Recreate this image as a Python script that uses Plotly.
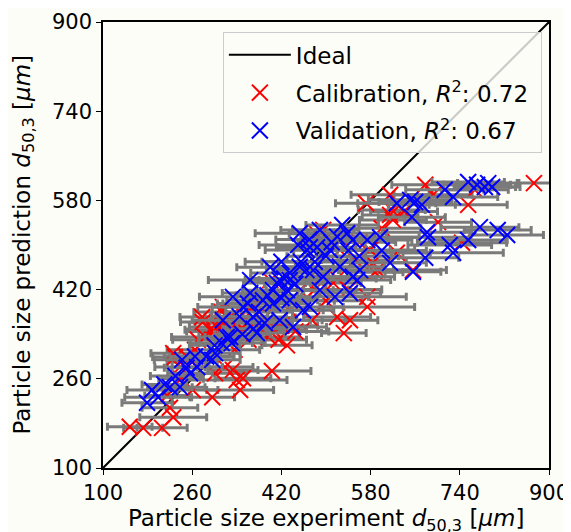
import plotly.graph_objects as go

# ---- data ----
ideal_x = [100, 900]
ideal_y = [100, 900]

cal_x = [148, 172, 206, 226, 220, 229, 238, 265, 283, 301, 296, 261, 319, 340, 346, 333,
         279, 313, 292, 340, 405, 572, 615, 618, 615, 620, 495, 579, 584, 592, 627, 656,
         513, 678, 692, 767, 755, 701, 744, 873, 588, 574, 574, 520, 543, 475, 532, 278,
         305, 328, 346, 379, 361, 397, 415, 336, 226, 364, 435, 484, 486, 315, 417, 453,
         400, 525, 552, 403, 351, 430,
         250, 270, 300, 320, 355, 375, 390, 420, 445, 460, 480, 500, 520, 540, 560, 600,
         640, 260, 240, 215]
cal_y = [174, 172, 172, 191, 208, 299, 281, 312, 335, 270, 227, 240, 281, 258, 240, 276,
         362, 380, 348, 360, 348, 575, 590, 563, 554, 545, 527, 491, 468, 455, 486, 455,
         432, 608, 590, 599, 572, 541, 504, 611, 451, 407, 389, 371, 365, 365, 342, 371,
         353, 371, 348, 353, 330, 335, 330, 312, 306, 389, 383, 520, 437, 389, 401, 419,
         437, 491, 473, 274, 261, 320,
         300, 330, 345, 360, 370, 395, 370, 355, 345, 400, 420, 400, 440, 420, 505, 530,
         560, 290, 260, 230]
cal_err = [40, 35, 45, 60, 50, 40, 45, 50, 60, 55, 40, 45, 50, 90, 60, 45,
           40, 50, 45, 55, 60, 55, 70, 60, 50, 60, 55, 80, 60, 70, 60, 60,
           50, 60, 70, 60, 70, 60, 80, 30, 50, 70, 85, 60, 50, 60, 40, 40,
           50, 45, 55, 50, 60, 55, 50, 45, 40, 50, 60, 50, 55, 45, 50, 60,
           45, 55, 60, 70, 50, 45,
           40, 45, 50, 55, 50, 60, 55, 65, 60, 55, 60, 65, 70, 60, 65, 70,
           60, 45, 40, 40]

val_x = [188, 179, 199, 220, 238, 242, 269, 296, 313, 322, 331, 301, 256, 333, 351, 369,
         387, 412, 430, 435, 453, 466, 484, 459, 376, 328, 315, 417, 441, 471, 489, 627,
         651, 654, 453, 489, 529, 538, 548, 574, 597, 561, 615, 471, 507, 525, 477, 435,
         495, 548, 713, 728, 755, 771, 785, 798, 791, 672, 660, 681, 683, 776, 808, 825,
         755, 722, 728, 678, 656, 556, 543, 516, 417, 364, 405, 435, 364,
         345, 360, 380, 395, 405, 420, 425, 445, 455, 465, 480, 500, 510, 520, 390, 370,
         350, 300, 285, 265, 250, 230, 210, 400, 420, 450, 470, 540, 560, 600]
val_y = [240, 217, 227, 245, 245, 294, 281, 294, 324, 335, 324, 306, 270, 407, 389, 371,
         401, 432, 419, 450, 461, 491, 496, 383, 342, 335, 365, 365, 353, 389, 419, 575,
         581, 550, 521, 527, 536, 521, 509, 509, 514, 455, 468, 496, 491, 461, 455, 437,
         443, 443, 599, 586, 613, 608, 604, 604, 611, 572, 577, 523, 514, 532, 527, 518,
         509, 500, 486, 477, 452, 437, 414, 407, 437, 437, 419, 401, 414,
         372, 395, 380, 410, 395, 405, 440, 430, 470, 455, 470, 480, 505, 515, 360, 350,
         340, 320, 300, 300, 280, 265, 250, 460, 470, 500, 510, 490, 480, 490]
val_err = [45, 45, 60, 40, 45, 50, 45, 50, 55, 50, 60, 45, 40, 60, 55, 60,
           65, 60, 55, 70, 60, 75, 70, 55, 50, 45, 55, 55, 60, 60, 65, 70,
           75, 60, 80, 70, 65, 70, 75, 80, 70, 60, 65, 60, 65, 80, 60, 55,
           70, 75, 70, 80, 65, 60, 55, 50, 55, 60, 65, 80, 75, 70, 60, 65,
           70, 75, 90, 60, 50, 60, 55, 60, 50, 75, 55, 50, 50,
           50, 55, 60, 55, 60, 65, 60, 55, 70, 60, 65, 70, 60, 65, 50, 55,
           50, 45, 50, 45, 40, 45, 40, 60, 65, 70, 60, 75, 70, 80]

tick_vals = [100, 260, 420, 580, 740, 900]

x_title = "Particle size experiment <i>d</i><sub>50,3</sub> [<i>μm</i>]"
y_title = "Particle size prediction <i>d</i><sub>50,3</sub> [<i>μm</i>]"

BG = "#fdfdf8"
FONT = "DejaVu Sans"

fig = go.Figure()

fig.add_trace(go.Scatter(
    x=ideal_x, y=ideal_y, mode="lines", name="Ideal",
    line=dict(color="black", width=2), legendgroup="a"))

fig.add_trace(go.Scatter(
    x=cal_x, y=cal_y, mode="markers",
    name="Calibration, <i>R</i><sup>2</sup>: 0.72\u00a0",
    marker=dict(symbol="x-thin", size=16, color="#ff0000",
                line=dict(color="#ff0000", width=2)),
    error_x=dict(type="data", array=cal_err, color="#7a7a7a", thickness=3, width=4),
    legendgroup="b"))

fig.add_trace(go.Scatter(
    x=val_x, y=val_y, mode="markers",
    name="Validation, <i>R</i><sup>2</sup>: 0.67\u00a0",
    marker=dict(symbol="x-thin", size=16, color="#0000ff",
                line=dict(color="#0000ff", width=2)),
    error_x=dict(type="data", array=val_err, color="#7a7a7a", thickness=3, width=4),
    legendgroup="c"))

axis_common = dict(
    range=[100, 900], tickvals=tick_vals, ticktext=[str(v) for v in tick_vals],
    showgrid=False, zeroline=False, showline=True, linecolor="black", linewidth=1.5,
    mirror=True, ticks="outside", ticklen=5, tickwidth=1.2, tickcolor="black",
    automargin=False,
    tickfont=dict(family=FONT, size=21, color="black"))

fig.update_layout(
    width=563, height=524,
    margin=dict(l=95, r=22, t=14, b=64),
    paper_bgcolor=BG, plot_bgcolor=BG,
    font=dict(family=FONT, color="black"),
    xaxis=dict(**axis_common),
    yaxis=dict(**axis_common),
    legend=dict(x=0.984, y=0.977, xanchor="right", yanchor="top",
                bgcolor="rgba(253,253,248,0.8)", bordercolor="#cccccc", borderwidth=1,
                font=dict(family=FONT, size=23), tracegroupgap=5, itemwidth=62),
    showlegend=True,
    annotations=[
        dict(text=x_title, xref="paper", yref="paper", x=0.5, y=-0.117,
             xanchor="center", yanchor="middle", showarrow=False,
             font=dict(family=FONT, size=23, color="black")),
        dict(text=y_title, xref="paper", yref="paper", x=-0.178, y=0.5,
             xanchor="center", yanchor="middle", showarrow=False, textangle=-90,
             font=dict(family=FONT, size=23, color="black")),
    ],
)

fig.write_html("out.html")
